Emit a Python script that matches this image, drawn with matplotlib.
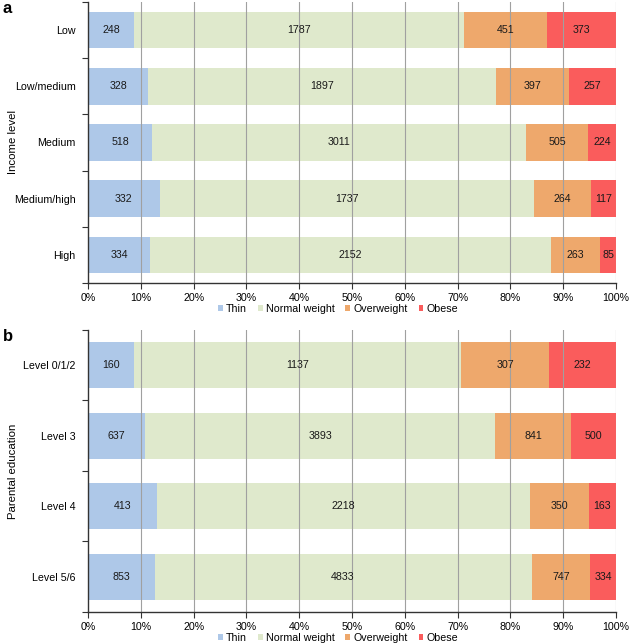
import matplotlib
matplotlib.use("Agg")
import matplotlib.pyplot as plt
from matplotlib.patches import Patch
import numpy as np

series = ["Thin", "Normal weight", "Overweight", "Obese"]
colors = ["#aec8e8", "#dfe9cc", "#eea86c", "#fa5c5c"]

income_levels = ["Low", "Low/medium", "Medium", "Medium/high", "High"]
income_thin = [248, 328, 518, 332, 334]
income_normal = [1787, 1897, 3011, 1737, 2152]
income_over = [451, 397, 505, 264, 263]
income_obese = [373, 257, 224, 117, 85]

edu_levels = ["Level 0/1/2", "Level 3", "Level 4", "Level 5/6"]
edu_thin = [160, 637, 413, 853]
edu_normal = [1137, 3893, 2218, 4833]
edu_over = [307, 841, 350, 747]
edu_obese = [232, 500, 163, 334]

xticks = [0, 10, 20, 30, 40, 50, 60, 70, 80, 90, 100]

plt.rcParams['font.family'] = ['Liberation Sans', 'DejaVu Sans']

fig = plt.figure(figsize=(6.38, 6.44), dpi=100)
FS = 7.7

def panel(rect, cats, data, ylabel, letter, legend_y):
    ax = fig.add_axes(rect)
    arr = np.array(data, dtype=float)
    totals = arr.sum(axis=0)
    pct = arr / totals * 100
    n = len(cats)
    y = np.arange(n)
    left = np.zeros(n)
    for i in range(4):
        ax.barh(y, pct[i], left=left, height=0.65, color=colors[i], zorder=1)
        for j in range(n):
            ax.text(left[j] + pct[i][j] / 2, y[j], str(int(arr[i][j])),
                    ha='center', va='center', fontsize=FS, color='#1a1a1a', zorder=3)
        left += pct[i]
    for xv in xticks[1:]:
        ax.axvline(xv, color='#a0a0a0', lw=0.8, zorder=2)
    ax.set_xlim(0, 100)
    ax.set_ylim(n - 0.5, -0.5)
    ax.set_xticks(xticks)
    ax.set_xticklabels([f"{v}%" for v in xticks], fontsize=FS)
    ax.set_yticks(y)
    ax.set_yticklabels(cats, fontsize=FS)
    ax.set_yticks(np.arange(n + 1) - 0.5, minor=True)
    ax.tick_params(axis='y', which='major', length=0, pad=9)
    ax.tick_params(axis='y', which='minor', length=4, width=0.8, color='#333333')
    ax.tick_params(axis='x', length=4, width=0.8, color='#333333', pad=3)
    for s in ['top', 'right']:
        ax.spines[s].set_visible(False)
    for s in ['left', 'bottom']:
        ax.spines[s].set_color('#333333')
        ax.spines[s].set_linewidth(1.0)
    ax.set_ylabel(ylabel, fontsize=FS + 0.5)
    ax.yaxis.set_label_coords(-0.132, 0.5)
    fig.text(0.004, rect[1] + rect[3] + 0.002, letter, fontsize=12, fontweight='bold',
             va='top', ha='left')
    handles = [Patch(facecolor=c, edgecolor='none') for c in colors]
    fig.legend(handles, series, loc='center', bbox_to_anchor=(0.53, legend_y),
               ncol=4, frameon=False, fontsize=FS, handlelength=0.45, handleheight=0.5,
               handletextpad=0.3, columnspacing=1.0, borderpad=0.1)
    return ax

panel([0.138, 0.5606, 0.8275, 0.4364], income_levels,
      [income_thin, income_normal, income_over, income_obese],
      "Income level", "a", 1 - 309 / 644)
panel([0.138, 0.0497, 0.8275, 0.4379], edu_levels,
      [edu_thin, edu_normal, edu_over, edu_obese],
      "Parental education", "b", 1 - 638 / 644)

fig.savefig("out.png", dpi=100)
